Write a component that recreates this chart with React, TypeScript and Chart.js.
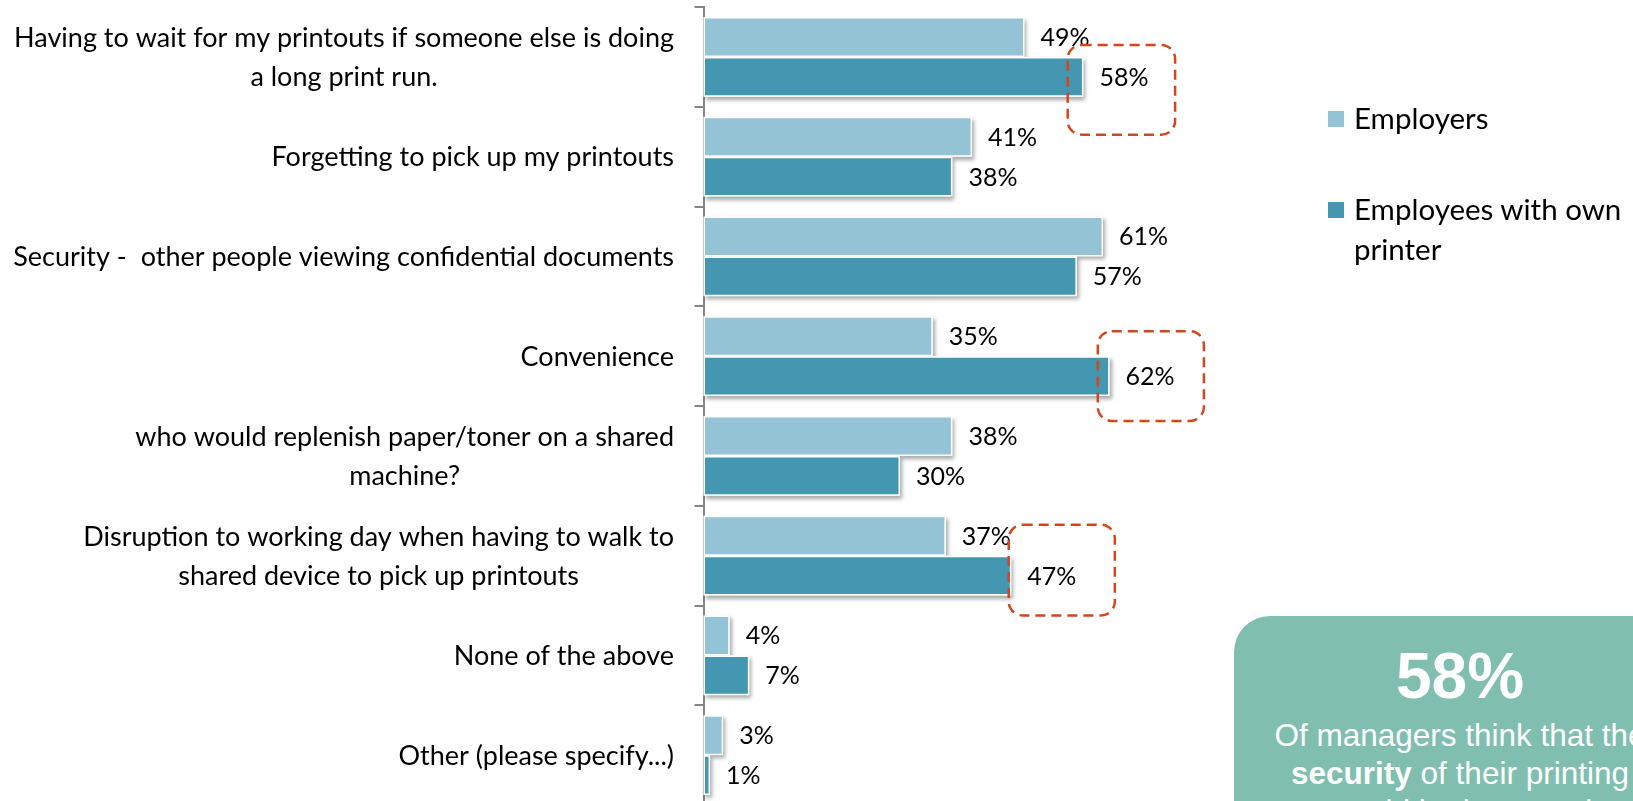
import React, { useEffect, useRef } from "react";
import { Chart, registerables } from "chart.js";

Chart.register(...registerables);

// ---- data ----
const categories: string[][] = [
  ["Having to wait for my printouts if someone else is doing", "a long print run."],
  ["Forgetting to pick up my printouts"],
  ["Security -  other people viewing confidential documents"],
  ["Convenience"],
  ["who would replenish paper/toner on a shared", "machine?"],
  ["Disruption to working day when having to walk to", "shared device to pick up printouts"],
  ["None of the above"],
  ["Other (please specify...)"],
];
const employers: number[] = [49, 41, 61, 35, 38, 37, 4, 3];
const employees: number[] = [58, 38, 57, 62, 30, 47, 7, 1];
const seriesNames: string[][] = [["Employers"], ["Employees with own", "printer"]];
const seriesColors: string[] = ["#93C3D4", "#4397B0"];
// highlight boxes in data units (x = percent, y = category index)
const highlightX: number[][] = [[55.6, 72.0], [60.2, 76.4], [46.6, 62.8]];
const highlightY: number[][] = [[-0.12, 0.78], [2.75, 3.65], [4.69, 5.6]];

const FONT = "Lato, 'Open Sans', sans-serif";
const AXIS_X = 703.5;
const LABEL_RIGHT = 674;

const shadowPlugin = {
  id: "barShadow",
  beforeDatasetsDraw(chart: any) {
    const ctx = chart.ctx;
    ctx.save();
    ctx.shadowColor = "rgba(0,0,0,0.35)";
    ctx.shadowBlur = 4;
    ctx.shadowOffsetX = 2;
    ctx.shadowOffsetY = 3;
    ctx.fillStyle = "#ffffff";
    chart.data.datasets.forEach((_: any, di: number) => {
      const meta = chart.getDatasetMeta(di);
      meta.data.forEach((bar: any) => {
        const p = bar.getProps(["x", "y", "base", "height"], true);
        ctx.fillRect(p.base, p.y - p.height / 2, p.x - p.base, p.height);
      });
    });
    ctx.restore();
  },
};

const labelsPlugin = {
  id: "customLabels",
  afterDraw(chart: any) {
    const ctx = chart.ctx;
    const y = chart.scales.y;
    const x = chart.scales.x;
    ctx.save();
    // category labels
    ctx.font = `27px ${FONT}`;
    ctx.fillStyle = "#000";
    ctx.textBaseline = "middle";
    ctx.textAlign = "center";
    categories.forEach((lines, i) => {
      const cy = y.getPixelForValue(i) + 1;
      const w = Math.max(...lines.map((l) => ctx.measureText(l).width));
      const cx = LABEL_RIGHT - w / 2;
      const lh = 38.5;
      lines.forEach((l, j) => ctx.fillText(l, cx, cy + (j - (lines.length - 1) / 2) * lh));
    });
    // value labels
    ctx.font = `25px ${FONT}`;
    ctx.textAlign = "left";
    chart.data.datasets.forEach((ds: any, di: number) => {
      const meta = chart.getDatasetMeta(di);
      meta.data.forEach((bar: any, i: number) => {
        const p = bar.getProps(["x", "y"], true);
        ctx.fillText(`${ds.data[i]}%`, p.x + 16, p.y + 1);
      });
    });
    // highlight boxes
    ctx.strokeStyle = "#D4461C";
    ctx.lineWidth = 2.5;
    ctx.setLineDash([10, 6]);
    highlightX.forEach((hx, k) => {
      const hy = highlightY[k];
      const l = x.getPixelForValue(hx[0]);
      const r = x.getPixelForValue(hx[1]);
      const t = y.getPixelForValue(hy[0]);
      const b = y.getPixelForValue(hy[1]);
      ctx.beginPath();
      ctx.roundRect(l, t, r - l, b - t, 14);
      ctx.stroke();
    });
    ctx.restore();
  },
};

export default function App() {
  const ref = useRef<HTMLCanvasElement | null>(null);
  useEffect(() => {
    if (!ref.current) return;
    const chart = new Chart(ref.current, {
      type: "bar",
      data: {
        labels: categories,
        datasets: [
          {
            label: seriesNames[0].join(" "),
            data: employers,
            backgroundColor: seriesColors[0],
            borderColor: "#ffffff",
            borderWidth: 1.5,
            borderSkipped: false,
            categoryPercentage: 0.8,
            barPercentage: 1.0,
          },
          {
            label: seriesNames[1].join(" "),
            data: employees,
            backgroundColor: seriesColors[1],
            borderColor: "#ffffff",
            borderWidth: 1.5,
            borderSkipped: false,
            categoryPercentage: 0.8,
            barPercentage: 1.0,
          },
        ],
      },
      options: {
        indexAxis: "y",
        responsive: false,
        animation: false,
        devicePixelRatio: 1,
        layout: { padding: { top: 7, bottom: 7, left: 0, right: 1633 - (AXIS_X + 524) } },
        plugins: { legend: { display: false }, tooltip: { enabled: false } },
        scales: {
          x: { display: false, min: 0, max: 80 },
          y: {
            display: true,
            ticks: { display: false },
            grid: {
              display: true,
              drawOnChartArea: false,
              drawTicks: true,
              tickLength: 9,
              color: "#868686",
              lineWidth: 2,
              offset: true,
            },
            border: { display: true, color: "#868686", width: 2 },
            afterFit: (scale: any) => {
              scale.width = AXIS_X;
            },
          },
        },
      },
      plugins: [shadowPlugin, labelsPlugin],
    } as any);
    return () => chart.destroy();
  }, []);

  return (
    <div
      style={{
        position: "fixed",
        left: 0,
        top: 0,
        width: 1633,
        height: 801,
        overflow: "hidden",
        background: "#fff",
      }}
    >
      <canvas ref={ref} width={1633} height={812} style={{ display: "block" }} />
      {seriesNames.map((lines, i) => (
        <div
          key={i}
          style={{
            position: "absolute",
            left: 1328,
            top: i === 0 ? 98 : 189,
            fontFamily: FONT,
            fontSize: 29.5,
            lineHeight: "40px",
            color: "#000",
            display: "flex",
            alignItems: "flex-start",
          }}
        >
          <div
            style={{
              width: 16,
              height: 16,
              background: seriesColors[i],
              marginTop: 13,
              marginRight: 10,
              flex: "none",
            }}
          />
          <div>
            {lines.map((l, j) => (
              <div key={j}>{l}</div>
            ))}
          </div>
        </div>
      ))}
      <div
        style={{
          position: "absolute",
          left: 1234,
          top: 616,
          width: 452,
          height: 260,
          borderRadius: 36,
          background: "#80BFAF",
          color: "#fff",
          fontFamily: "'Liberation Sans', Arial, sans-serif",
          textAlign: "center",
        }}
      >
        <div style={{ fontWeight: "bold", fontSize: 64, lineHeight: "64px", marginTop: 28 }}>58%</div>
        <div style={{ fontSize: 31.5, lineHeight: "38px", marginTop: 8 }}>
          Of managers think that the
          <br />
          <b>security</b> of their printing
          <br />
          would be improved
        </div>
      </div>
    </div>
  );
}
